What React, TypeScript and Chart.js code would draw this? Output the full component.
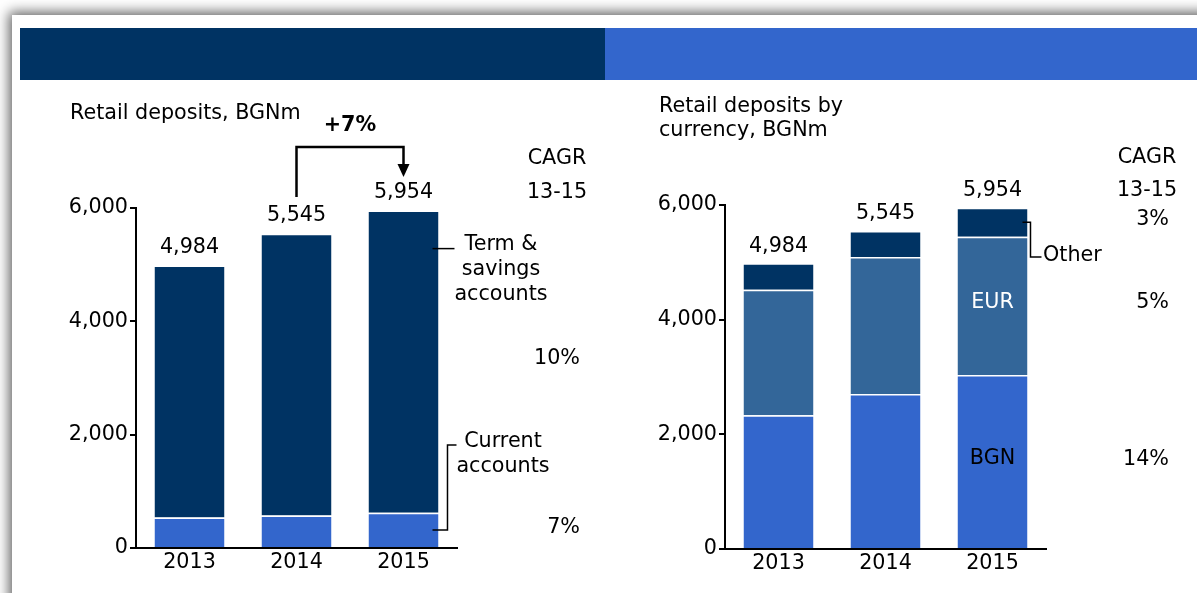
import React, { useEffect, useRef } from "react";
import { Chart, registerables } from "chart.js";

Chart.register(...registerables);

// ---------- data ----------
const years = ["2013", "2014", "2015"];
const currentAccounts = [540, 575, 620];
const termSavings = [4444, 4970, 5334];
const bgn = [2332, 2704, 3035];
const eur = [2191, 2389, 2412];
const other = [461, 452, 507];
const yTicks = [0, 2000, 4000, 6000];
const cagrLeft = ["10%", "7%"];
const cagrRight = ["3%", "5%", "14%"];
const growthLabel = "+7%";

// ---------- styles ----------
const NAVY = "#003363";
const BLUE = "#3366cc";
const STEEL = "#336699";
const FONT = "'DejaVu Sans', Verdana, sans-serif";
const FS = 20.7;

Chart.defaults.font.family = FONT;
Chart.defaults.font.size = FS;
Chart.defaults.color = "#000";

const fmt = (v: number) => v.toLocaleString("en-US");

function baseOptions(padding: any): any {
  return {
    responsive: false,
    animation: false,
    events: [],
    layout: { padding },
    plugins: {
      legend: { display: false },
      tooltip: { enabled: false },
      title: { display: false },
    },
    datasets: { bar: { barPercentage: 0.654, categoryPercentage: 1 } },
    scales: {
      x: {
        stacked: true,
        grid: { display: false, drawTicks: false },
        border: { display: true, color: "#000", width: 2 },
        ticks: { color: "#000", font: { size: FS, family: FONT }, padding: 2, maxRotation: 0, autoSkip: false },
        afterFit: (s: any) => {
          s.height = 32;
        },
      },
      y: {
        stacked: true,
        min: 0,
        max: 6000,
        afterBuildTicks: (s: any) => {
          s.ticks = yTicks.map((v) => ({ value: v }));
        },
        ticks: {
          color: "#000",
          font: { size: FS, family: FONT },
          padding: 2,
          callback: (v: any) => fmt(Number(v)),
        },
        grid: {
          display: true,
          drawOnChartArea: false,
          drawTicks: true,
          tickLength: 6,
          color: "#000",
          lineWidth: 2,
        },
        border: { display: true, color: "#000", width: 2 },
        afterFit: (s: any) => {
          s.width = 76;
        },
      },
    },
  };
}

const segBorder = { top: 1.5, right: 0, bottom: 0, left: 0 };

function drawLine(ctx: CanvasRenderingContext2D, pts: number[][], w: number) {
  ctx.beginPath();
  ctx.moveTo(pts[0][0], pts[0][1]);
  for (let i = 1; i < pts.length; i++) ctx.lineTo(pts[i][0], pts[i][1]);
  ctx.lineWidth = w;
  ctx.strokeStyle = "#000";
  ctx.stroke();
}

const leftPlugin = {
  id: "leftAnnotations",
  afterDatasetsDraw(chart: any) {
    const ctx: CanvasRenderingContext2D = chart.ctx;
    const m0 = chart.getDatasetMeta(0);
    const m1 = chart.getDatasetMeta(1);
    ctx.save();
    ctx.font = `${FS}px ${FONT}`;
    ctx.fillStyle = "#000";
    ctx.textAlign = "center";
    ctx.textBaseline = "middle";
    years.forEach((_, i) => {
      const bar = m1.data[i];
      const total = currentAccounts[i] + termSavings[i];
      ctx.fillText(fmt(total), bar.x, bar.y - 18);
    });
    // term & savings leader
    const tb = m1.data[2];
    const tr = tb.x + tb.width / 2;
    drawLine(ctx, [[tr - 6, tb.y + 38], [tr + 16, tb.y + 38]], 1.5);
    // current accounts leader
    const cb = m0.data[2];
    const cr = cb.x + cb.width / 2;
    const cy = (cb.y + cb.base) / 2;
    drawLine(ctx, [[cr - 6, cy], [cr + 9, cy], [cr + 9, 445], [cr + 18, 445]], 1.5);
    // growth arrow
    const a = m1.data[1];
    const b = m1.data[2];
    drawLine(ctx, [[a.x, 197], [a.x, 147], [b.x, 147], [b.x, 165]], 2.5);
    ctx.beginPath();
    ctx.moveTo(b.x - 6, 164);
    ctx.lineTo(b.x + 6, 164);
    ctx.lineTo(b.x, 177);
    ctx.closePath();
    ctx.fill();
    ctx.restore();
  },
};

const rightPlugin = {
  id: "rightAnnotations",
  afterDatasetsDraw(chart: any) {
    const ctx: CanvasRenderingContext2D = chart.ctx;
    const m0 = chart.getDatasetMeta(0);
    const m1 = chart.getDatasetMeta(1);
    const m2 = chart.getDatasetMeta(2);
    ctx.save();
    ctx.font = `${FS}px ${FONT}`;
    ctx.fillStyle = "#000";
    ctx.textAlign = "center";
    ctx.textBaseline = "middle";
    years.forEach((_, i) => {
      const bar = m2.data[i];
      const total = bgn[i] + eur[i] + other[i];
      ctx.fillText(fmt(total), bar.x, bar.y - 17);
    });
    const e = m1.data[2];
    ctx.fillStyle = "#fff";
    ctx.fillText("EUR", e.x, (e.y + e.base) / 2 - 3);
    const g = m0.data[2];
    ctx.fillStyle = "#000";
    ctx.fillText("BGN", g.x, (g.y + g.base) / 2 - 3);
    const o = m2.data[2];
    const orr = o.x + o.width / 2;
    const oy = (o.y + o.base) / 2;
    drawLine(ctx, [[orr - 5, oy], [orr + 3, oy], [orr + 3, 257], [orr + 14, 257]], 1.5);
    ctx.restore();
  },
};

function useChart(ref: any, config: any) {
  useEffect(() => {
    const chart = new Chart(ref.current, config);
    return () => chart.destroy();
  }, []);
}

const txt: React.CSSProperties = {
  position: "absolute",
  fontFamily: FONT,
  fontSize: FS,
  lineHeight: "24px",
  color: "#000",
  whiteSpace: "nowrap",
};

export default function App() {
  const leftRef = useRef<HTMLCanvasElement>(null);
  const rightRef = useRef<HTMLCanvasElement>(null);

  useChart(leftRef, {
    type: "bar",
    data: {
      labels: years,
      datasets: [
        { label: "Current accounts", data: currentAccounts, backgroundColor: BLUE, borderColor: "#fff", borderWidth: segBorder },
        { label: "Term & savings accounts", data: termSavings, backgroundColor: NAVY, borderColor: "#fff", borderWidth: segBorder },
      ],
    },
    options: baseOptions({ left: 60, right: 740, top: 208, bottom: 13 }),
    plugins: [leftPlugin],
  });

  useChart(rightRef, {
    type: "bar",
    data: {
      labels: years,
      datasets: [
        { label: "BGN", data: bgn, backgroundColor: BLUE, borderColor: "#fff", borderWidth: segBorder },
        { label: "EUR", data: eur, backgroundColor: STEEL, borderColor: "#fff", borderWidth: segBorder },
        { label: "Other", data: other, backgroundColor: NAVY, borderColor: "#fff", borderWidth: segBorder },
      ],
    },
    options: baseOptions({ left: 649, right: 151, top: 205, bottom: 12 }),
    plugins: [rightPlugin],
  });

  const canvasStyle: React.CSSProperties = { position: "absolute", left: 0, top: 0, width: 1197, height: 593 };

  return (
    <div style={{ position: "fixed", left: 0, top: 0, width: 1197, height: 593, overflow: "hidden", background: "#fff" }}>
      <div
        style={{
          position: "absolute",
          left: 12,
          top: 15,
          width: 1400,
          height: 800,
          background: "#fff",
          boxShadow: "-3px -3px 12px rgba(0,0,0,0.62)",
        }}
      />
      <div style={{ position: "absolute", left: 20, top: 28, width: 585, height: 52, background: NAVY }} />
      <div style={{ position: "absolute", left: 605, top: 28, width: 592, height: 52, background: BLUE }} />

      <canvas ref={leftRef} width={1197} height={593} style={canvasStyle} />
      <canvas ref={rightRef} width={1197} height={593} style={canvasStyle} />

      {/* left panel texts */}
      <div style={{ ...txt, left: 70, top: 100 }}>Retail deposits, BGNm</div>
      <div style={{ ...txt, left: 300, width: 100, top: 112, textAlign: "center", fontWeight: "bold" }}>{growthLabel}</div>
      <div style={{ ...txt, left: 507, width: 100, top: 145, textAlign: "center" }}>CAGR</div>
      <div style={{ ...txt, left: 507, width: 100, top: 179, textAlign: "center" }}>13-15</div>
      <div style={{ ...txt, right: 1197 - 580, top: 345 }}>{cagrLeft[0]}</div>
      <div style={{ ...txt, right: 1197 - 580, top: 514 }}>{cagrLeft[1]}</div>
      <div style={{ ...txt, left: 441, width: 120, top: 231, lineHeight: "25px", textAlign: "center" }}>
        Term &amp;
        <br />
        savings
        <br />
        accounts
      </div>
      <div style={{ ...txt, left: 443, width: 120, top: 428, lineHeight: "25px", textAlign: "center" }}>
        Current
        <br />
        accounts
      </div>

      {/* right panel texts */}
      <div style={{ ...txt, left: 659, top: 93 }}>
        Retail deposits by
        <br />
        currency, BGNm
      </div>
      <div style={{ ...txt, left: 1097, width: 100, top: 144, textAlign: "center" }}>CAGR</div>
      <div style={{ ...txt, left: 1097, width: 100, top: 177, textAlign: "center" }}>13-15</div>
      <div style={{ ...txt, right: 1197 - 1169, top: 206 }}>{cagrRight[0]}</div>
      <div style={{ ...txt, right: 1197 - 1169, top: 289 }}>{cagrRight[1]}</div>
      <div style={{ ...txt, right: 1197 - 1169, top: 446 }}>{cagrRight[2]}</div>
      <div style={{ ...txt, left: 1043, top: 242 }}>Other</div>
    </div>
  );
}
